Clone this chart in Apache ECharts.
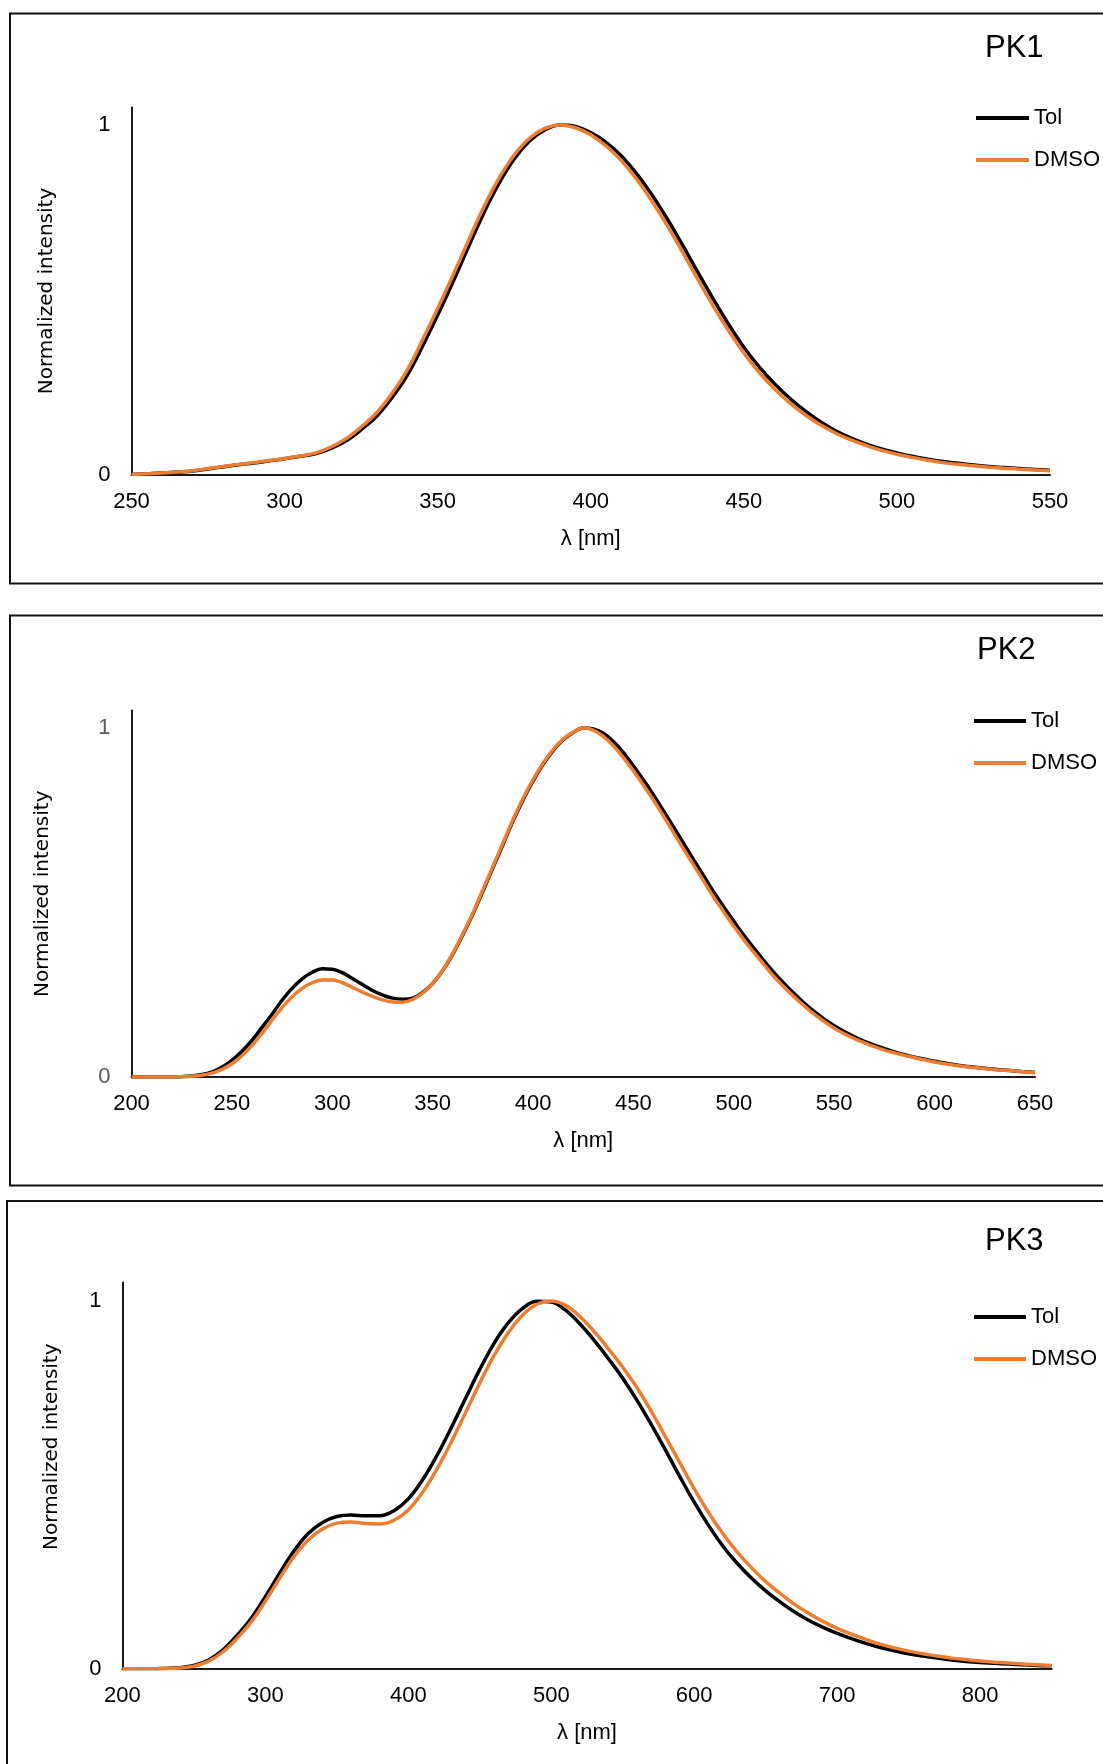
<!DOCTYPE html>
<html>
<head>
<meta charset="utf-8">
<title>PK1 PK2 PK3 emission</title>
<script src="https://cdn.jsdelivr.net/npm/echarts@6/dist/echarts.min.js"></script>
<style>
  html, body { margin: 0; padding: 0; background: #fff; }
  #main { width: 1103px; height: 1764px; }
</style>
</head>
<body>
<div id="main"></div>
<script>
// wavelengths (nm) and normalized intensities
const pk1Wl = [250, 255, 260, 265, 270, 275, 280, 285, 290, 295, 300, 305, 310, 315, 320, 325, 330, 335, 340, 345,
  350, 355, 360, 365, 370, 375, 380, 385, 390, 395, 400, 405, 410, 415, 420, 425, 430, 435, 440, 445,
  450, 455, 460, 465, 470, 475, 480, 485, 490, 495, 500, 505, 510, 515, 520, 525, 530, 535, 540, 545, 550];
const pk1Tol = [0, 0.002, 0.004, 0.007, 0.010, 0.016, 0.022, 0.028, 0.033, 0.039, 0.045, 0.052, 0.059, 0.074, 0.096, 0.128, 0.166, 0.219, 0.283, 0.366,
  0.456, 0.551, 0.650, 0.747, 0.833, 0.903, 0.954, 0.986, 1.0, 0.996, 0.978, 0.950, 0.911, 0.860, 0.800, 0.731, 0.656, 0.578, 0.502, 0.430,
  0.364, 0.308, 0.260, 0.218, 0.182, 0.151, 0.125, 0.104, 0.087, 0.073, 0.062, 0.052, 0.044, 0.037, 0.032, 0.027, 0.023, 0.020, 0.017, 0.014, 0.012];
const pk1Dmso = [0, 0.002, 0.004, 0.007, 0.011, 0.017, 0.023, 0.029, 0.034, 0.040, 0.046, 0.053, 0.061, 0.078, 0.102, 0.136, 0.176, 0.231, 0.298, 0.384,
  0.475, 0.570, 0.668, 0.764, 0.847, 0.914, 0.962, 0.990, 1.0, 0.992, 0.972, 0.940, 0.898, 0.845, 0.782, 0.712, 0.636, 0.558, 0.482, 0.412,
  0.348, 0.292, 0.245, 0.205, 0.171, 0.142, 0.118, 0.099, 0.083, 0.069, 0.058, 0.049, 0.041, 0.034, 0.029, 0.025, 0.021, 0.018, 0.015, 0.013, 0.011];

const pk2Wl = [200, 205, 210, 215, 220, 225, 230, 235, 240, 245, 250, 255, 260, 265, 270, 275, 280, 285, 290, 295,
  300, 305, 310, 315, 320, 325, 330, 335, 340, 345, 350, 355, 360, 365, 370, 375, 380, 385, 390, 395,
  400, 405, 410, 415, 420, 425, 430, 435, 440, 445, 450, 455, 460, 465, 470, 475, 480, 485, 490, 495,
  500, 505, 510, 515, 520, 525, 530, 535, 540, 545, 550, 555, 560, 565, 570, 575, 580, 585, 590, 595,
  600, 605, 610, 615, 620, 625, 630, 635, 640, 645, 650];
const pk2Tol = [0, 0, 0, 0, 0, 0.001, 0.003, 0.007, 0.014, 0.028, 0.048, 0.074, 0.105, 0.142, 0.180, 0.220, 0.254, 0.281, 0.300, 0.310,
  0.309, 0.299, 0.282, 0.265, 0.248, 0.235, 0.226, 0.223, 0.226, 0.242, 0.268, 0.305, 0.352, 0.407, 0.467, 0.532, 0.599, 0.666, 0.733, 0.794,
  0.848, 0.896, 0.935, 0.966, 0.987, 1.0, 0.997, 0.985, 0.961, 0.929, 0.891, 0.851, 0.808, 0.762, 0.716, 0.669, 0.622, 0.576, 0.530, 0.487,
  0.446, 0.406, 0.369, 0.333, 0.299, 0.268, 0.239, 0.212, 0.188, 0.166, 0.147, 0.130, 0.115, 0.102, 0.091, 0.081, 0.072, 0.064, 0.057, 0.051,
  0.045, 0.040, 0.035, 0.031, 0.028, 0.025, 0.022, 0.020, 0.017, 0.015, 0.013];
const pk2Dmso = [0, 0, 0, 0, 0, 0.001, 0.002, 0.005, 0.011, 0.022, 0.038, 0.061, 0.090, 0.125, 0.163, 0.199, 0.230, 0.254, 0.270, 0.278,
  0.278, 0.270, 0.257, 0.243, 0.231, 0.221, 0.215, 0.214, 0.222, 0.240, 0.268, 0.306, 0.354, 0.410, 0.470, 0.536, 0.603, 0.670, 0.737, 0.798,
  0.852, 0.899, 0.938, 0.968, 0.988, 1.0, 0.994, 0.976, 0.949, 0.915, 0.877, 0.836, 0.793, 0.747, 0.700, 0.653, 0.607, 0.561, 0.515, 0.473,
  0.432, 0.393, 0.357, 0.322, 0.288, 0.258, 0.230, 0.204, 0.180, 0.159, 0.140, 0.124, 0.110, 0.098, 0.087, 0.077, 0.069, 0.062, 0.055, 0.049,
  0.043, 0.038, 0.034, 0.030, 0.027, 0.024, 0.021, 0.019, 0.017, 0.014, 0.012];

const pk3Wl = [200, 210, 220, 230, 240, 250, 260, 270, 280, 290, 300, 310, 320, 330, 340, 350, 360, 370, 380, 390,
  400, 410, 420, 430, 440, 450, 460, 470, 480, 490, 500, 510, 520, 530, 540, 550, 560, 570, 580, 590,
  600, 610, 620, 630, 640, 650, 660, 670, 680, 690, 700, 710, 720, 730, 740, 750, 760, 770, 780, 790,
  800, 810, 820, 830, 840, 850];
const pk3Tol = [0, 0, 0, 0.001, 0.003, 0.009, 0.023, 0.050, 0.090, 0.137, 0.196, 0.260, 0.320, 0.368, 0.398, 0.414, 0.418, 0.416, 0.416, 0.430,
  0.462, 0.514, 0.580, 0.655, 0.735, 0.814, 0.885, 0.941, 0.980, 0.999, 0.997, 0.975, 0.938, 0.893, 0.843, 0.790, 0.730, 0.664, 0.594, 0.522,
  0.453, 0.390, 0.334, 0.287, 0.247, 0.212, 0.182, 0.155, 0.132, 0.113, 0.096, 0.082, 0.069, 0.058, 0.049, 0.041, 0.035, 0.029, 0.024, 0.020,
  0.017, 0.015, 0.013, 0.011, 0.009, 0.008];
const pk3Dmso = [0, 0, 0, 0.001, 0.002, 0.007, 0.020, 0.045, 0.082, 0.127, 0.184, 0.246, 0.305, 0.350, 0.380, 0.396, 0.399, 0.395, 0.394, 0.404,
  0.432, 0.480, 0.543, 0.616, 0.696, 0.777, 0.852, 0.914, 0.962, 0.991, 1.0, 0.988, 0.958, 0.917, 0.870, 0.820, 0.764, 0.700, 0.630, 0.560,
  0.490, 0.425, 0.368, 0.318, 0.275, 0.237, 0.205, 0.176, 0.151, 0.129, 0.110, 0.094, 0.080, 0.067, 0.057, 0.048, 0.041, 0.035, 0.029, 0.025,
  0.021, 0.018, 0.016, 0.013, 0.011, 0.009];

// tick labels
const pk1Ticks = [250, 300, 350, 400, 450, 500, 550];
const pk2Ticks = [200, 250, 300, 350, 400, 450, 500, 550, 600, 650];
const pk3Ticks = [200, 300, 400, 500, 600, 700, 800];
const yTicks = [0, 1];

const panelNames = ['PK1', 'PK2', 'PK3'];
const seriesNames = ['Tol', 'DMSO'];
const colors = ['#000000', '#ED7D31'];

const zip = (xs, ys) => xs.map((x, i) => [x, ys[i]]);

const labelFont = 'Liberation Sans, Arial, sans-serif';

function makeX(idx, min, max, ticks, nameGap) {
  return {
    type: 'value',
    gridIndex: idx,
    min: min,
    max: max,
    axisLine: { show: true, onZero: false, lineStyle: { color: '#1a1a1a', width: 2 } },
    axisTick: { show: false },
    splitLine: { show: false },
    axisLabel: {
      customValues: ticks,
      margin: 16,
      fontSize: 22,
      fontFamily: labelFont,
      color: '#000',
    },
    name: 'λ [nm]',
    nameLocation: 'middle',
    nameGap: nameGap,
    nameTextStyle: { fontSize: 22, fontFamily: labelFont, color: '#000' },
  };
}

function makeY(idx, labelColor, nameGap, namePad) {
  return {
    type: 'value',
    gridIndex: idx,
    min: 0,
    max: 1.05,
    axisLine: { show: true, lineStyle: { color: '#1a1a1a', width: 2 } },
    axisTick: { show: false },
    splitLine: { show: false },
    axisLabel: {
      customValues: yTicks,
      margin: 21,
      fontSize: 22,
      fontFamily: labelFont,
      color: labelColor,
    },
    name: 'Normalized intensity',
    nameLocation: 'middle',
    nameGap: nameGap,
    nameTextStyle: {
      fontSize: 20,
      fontFamily: 'DejaVu Sans, Verdana, sans-serif',
      color: '#000',
      padding: namePad,
    },
  };
}

function makeLegend(left, top, width) {
  return {
    data: seriesNames,
    orient: 'vertical',
    left: left,
    top: top,
    padding: 0,
    icon: 'rect',
    itemWidth: width,
    itemHeight: 4,
    itemGap: 20,
    textStyle: { fontSize: 22, fontFamily: labelFont, color: '#000' },
  };
}

function line(name, data, idx, color) {
  return {
    name: name,
    type: 'line',
    xAxisIndex: idx,
    yAxisIndex: idx,
    data: data,
    showSymbol: false,
    symbol: 'none',
    smooth: 0.4,
    color: color,
    lineStyle: { color: color, width: 3.5 },
  };
}

const chart = echarts.init(document.getElementById('main'));

const option = {
  animation: false,
  backgroundColor: '#ffffff',
  title: [
    { text: panelNames[0], left: 985, top: 33, padding: 0, textStyle: { fontSize: 31, fontWeight: 'normal', fontFamily: labelFont, color: '#000' } },
    { text: panelNames[1], left: 977, top: 635, padding: 0, textStyle: { fontSize: 31, fontWeight: 'normal', fontFamily: labelFont, color: '#000' } },
    { text: panelNames[2], left: 985, top: 1226, padding: 0, textStyle: { fontSize: 31, fontWeight: 'normal', fontFamily: labelFont, color: '#000' } },
  ],
  legend: [
    makeLegend(976, 107, 53),
    makeLegend(974, 710, 52),
    makeLegend(974, 1306, 52),
  ],
  grid: [
    { left: 131.5, right: 53, top: 107.5, height: 367, outerBoundsMode: 'none' },
    { left: 131.5, right: 68, top: 710.5, height: 366.5, outerBoundsMode: 'none' },
    { left: 122.4, right: 51.4, top: 1282.6, height: 386.2, outerBoundsMode: 'none' },
  ],
  xAxis: [
    makeX(0, 250, 550, pk1Ticks, 53),
    makeX(1, 200, 650, pk2Ticks, 53),
    makeX(2, 200, 850, pk3Ticks, 53),
  ],
  yAxis: [
    makeY(0, '#000', 75, 0),
    makeY(1, '#595959', 79, 0),
    makeY(2, '#000', 61, [0, 0, 0, 58]),
  ],
  graphic: [
    { type: 'rect', silent: true, shape: { x: 10, y: 13.5, width: 1200, height: 570 }, style: { fill: 'none', stroke: '#111', lineWidth: 2 } },
    { type: 'rect', silent: true, shape: { x: 10, y: 615.5, width: 1200, height: 570 }, style: { fill: 'none', stroke: '#111', lineWidth: 2 } },
    { type: 'rect', silent: true, shape: { x: 7, y: 1201, width: 1200, height: 700 }, style: { fill: 'none', stroke: '#111', lineWidth: 2 } },
  ],
  series: [
    line('Tol', zip(pk1Wl, pk1Tol), 0, colors[0]),
    line('DMSO', zip(pk1Wl, pk1Dmso), 0, colors[1]),
    line('Tol', zip(pk2Wl, pk2Tol), 1, colors[0]),
    line('DMSO', zip(pk2Wl, pk2Dmso), 1, colors[1]),
    line('Tol', zip(pk3Wl, pk3Tol), 2, colors[0]),
    line('DMSO', zip(pk3Wl, pk3Dmso), 2, colors[1]),
  ],
};

option && chart.setOption(option);
</script>
</body>
</html>
